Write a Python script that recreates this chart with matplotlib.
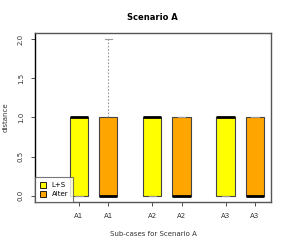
import matplotlib
matplotlib.use("Agg")
import matplotlib.pyplot as plt
from matplotlib.patches import Patch

# box statistics
labels = ["A1", "A1", "A2", "A2", "A3", "A3"]
groups = ["L+S", "Alter", "L+S", "Alter", "L+S", "Alter"]
whislo = [0, 0, 0, 0, 0, 0]
q1 = [0, 0, 0, 0, 0, 0]
med = [1, 0, 1, 0, 1, 0]
q3 = [1, 1, 1, 1, 1, 1]
whishi = [1, 2, 1, 1, 1, 1]
positions = [1, 2, 3.5, 4.5, 6, 7]
colors = {"L+S": "#ffff00", "Alter": "#ffa500"}

stats = []
for i in range(len(labels)):
    stats.append(dict(label=labels[i], whislo=whislo[i], q1=q1[i], med=med[i],
                      q3=q3[i], whishi=whishi[i], fliers=[]))

fig = plt.figure(figsize=(2.89, 2.45), dpi=100)
ax = fig.add_axes([35 / 289, 1 - 202 / 245, 236 / 289, 169 / 245])

bp = ax.bxp(stats, positions=positions, widths=0.62, patch_artist=True,
            showfliers=False,
            boxprops=dict(edgecolor="#444444", linewidth=0.8),
            medianprops=dict(color="black", linewidth=2),
            whiskerprops=dict(color="#999999", linestyle=(0, (1.5, 1.5)), linewidth=0.8),
            capprops=dict(color="#999999", linewidth=0.8),
            capwidths=0.25)
for patch, g in zip(bp["boxes"], groups):
    patch.set_facecolor(colors[g])

ax.set_xlim(-0.5, 7.55)
ax.set_ylim(-0.08, 2.08)
ax.set_yticks([0, 0.5, 1.0, 1.5, 2.0])
ax.set_yticklabels(["0.0", "0.5", "1.0", "1.5", "2.0"], rotation=90, va="center")
ax.set_xticks(positions)
ax.set_xticklabels(labels)
ax.tick_params(labelsize=5, length=3, width=0.6, pad=5, colors="#333333")

for s in ax.spines.values():
    s.set_color("#555555")
    s.set_linewidth(1)
ax.spines["left"].set_color("black")

fig.text(152 / 289, 1 - 18 / 245, "Scenario A", fontsize=6, fontweight="bold",
         ha="center", va="center")
ax.set_xlabel("Sub-cases for Scenario A", fontsize=5, color="#333333")
ax.xaxis.set_label_coords(0.5, (202 - 231) / 169)
ax.set_ylabel("distance", fontsize=5, color="#333333", va="center")
ax.yaxis.set_label_coords((6 - 35) / 236, 0.5)

handles = [Patch(facecolor=colors[k], edgecolor="black", linewidth=0.6) for k in ["L+S", "Alter"]]
leg = ax.legend(handles, ["L+S", "Alter"], loc="lower left", fontsize=5,
                borderaxespad=0, fancybox=False, handlelength=0.9, handleheight=0.9,
                handletextpad=0.8, borderpad=0.7, labelspacing=0.4)
leg.get_frame().set_edgecolor("#555555")
leg.get_frame().set_linewidth(0.8)

fig.savefig("out.png", dpi=100)
